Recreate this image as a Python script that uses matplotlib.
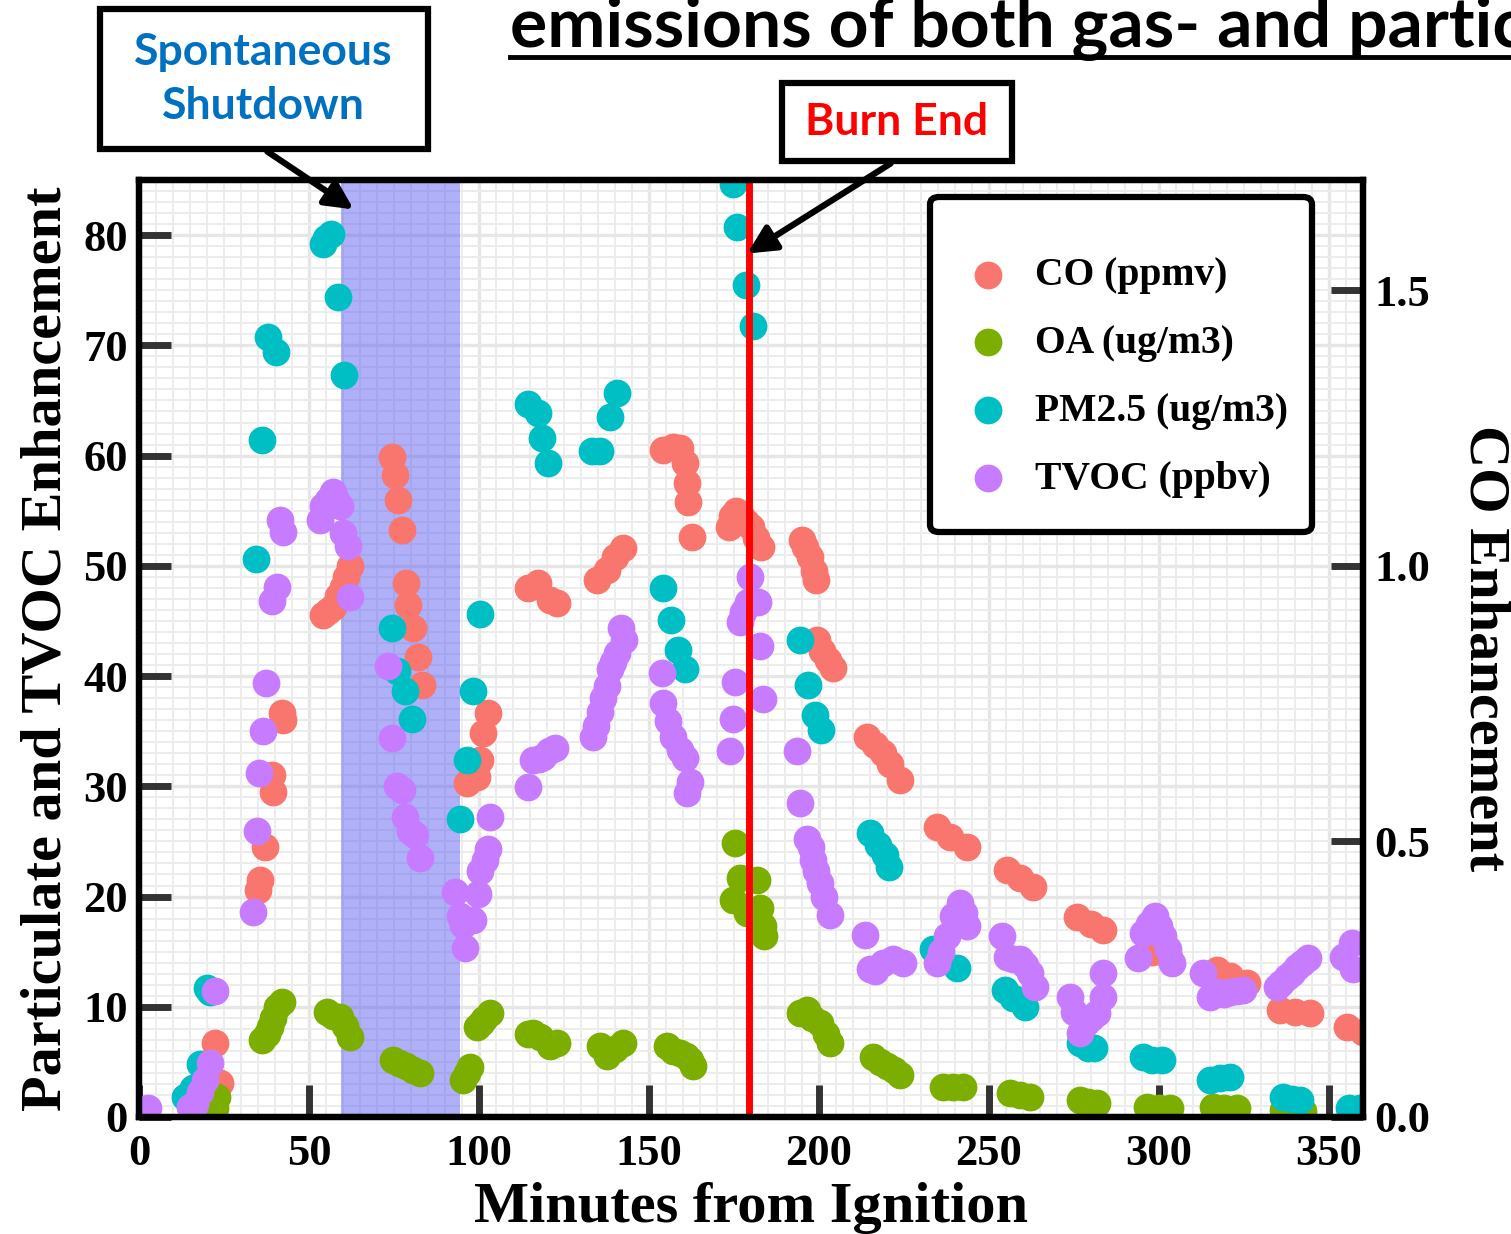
import numpy as np
import matplotlib
matplotlib.use("Agg")
import matplotlib.pyplot as plt
from matplotlib.ticker import MultipleLocator
from matplotlib.patches import Rectangle, FancyArrowPatch, FancyBboxPatch
from matplotlib.lines import Line2D
from matplotlib.font_manager import FontProperties

# ---- data ----
co_x = [22.4, 23.8, 35.0, 35.6, 37.1, 39.1, 39.4, 42.0, 42.4,
        54.1, 55.5, 57.0, 58.5, 60.0, 61.0, 62.0,
        74.4, 75.3, 76.2, 77.4, 78.5, 79.1, 80.6, 82.0, 83.2,
        96.5, 99.4, 100.3, 101.2, 102.6,
        114.4, 117.4, 120.9, 122.9,
        134.7, 137.6, 140.0, 142.4,
        154.1, 157.0, 159.1, 160.6, 161.2, 161.5, 162.6,
        173.5, 174.5, 175.5, 177.0, 178.5, 180.0, 181.5, 183.0,
        195.0, 196.0, 197.4, 198.5, 199.0,
        199.5, 201.0, 202.5, 204.0,
        214.1, 216.5, 218.8, 221.0, 223.8,
        234.7, 238.5, 243.5,
        255.3, 259.0, 263.0,
        275.9, 280.0, 283.5,
        298.0, 303.0,
        317.0, 321.0, 326.0,
        335.6, 340.0, 344.4,
        355.3, 360.0]
co_y = [0.134, 0.062, 0.412, 0.43, 0.49, 0.62, 0.59, 0.733, 0.72,
        0.911, 0.918, 0.926, 0.945, 0.962, 0.98, 1.0,
        1.198, 1.165, 1.12, 1.065, 0.969, 0.929, 0.887, 0.835, 0.784,
        0.606, 0.617, 0.648, 0.697, 0.733,
        0.96, 0.969, 0.938, 0.933,
        0.975, 0.993, 1.016, 1.033,
        1.21, 1.215, 1.214, 1.187, 1.151, 1.116, 1.053,
        1.07, 1.09, 1.10, 1.09, 1.08, 1.07, 1.05, 1.035,
        1.047, 1.035, 1.016, 0.99, 0.975,
        0.865, 0.845, 0.83, 0.815,
        0.69, 0.675, 0.66, 0.64, 0.612,
        0.526, 0.508, 0.49,
        0.448, 0.433, 0.418,
        0.363, 0.35, 0.339,
        0.30, 0.29,
        0.267, 0.255, 0.243,
        0.194, 0.19, 0.189,
        0.163, 0.155]

oa_x = [22.4, 23.0, 36.2, 37.5, 38.5, 39.5, 40.6, 42.0,
        55.3, 57.0, 59.0, 60.5, 62.0,
        74.7, 76.5, 78.5, 80.6, 82.6,
        95.3, 96.5, 97.4, 99.4, 100.5, 101.5, 103.2,
        114.5, 116.0, 118.0, 120.9, 122.9,
        135.6, 137.6, 140.0, 142.4,
        155.3, 157.0, 159.0, 161.0, 162.0, 163.0,
        175.3, 176.8, 174.7, 178.8, 181.8, 182.6, 183.5, 183.8,
        194.4, 196.5, 198.0, 200.3, 202.0, 203.2,
        216.0, 218.0, 220.0, 222.0, 223.8,
        236.5, 239.5, 242.4,
        256.2, 259.0, 262.1,
        276.8, 279.0, 281.8,
        296.5, 300.0, 303.2,
        315.9, 319.0, 323.0,
        336.5, 339.0, 342.4]
oa_y = [0.8, 1.8, 7.0, 7.5, 8.2, 9.0, 10.0, 10.4,
        9.5, 9.2, 9.1, 8.3, 7.3,
        5.2, 4.9, 4.6, 4.3, 4.0,
        3.4, 4.0, 4.5, 8.2, 8.5, 8.9, 9.4,
        7.5, 7.6, 7.3, 6.4, 6.7,
        6.4, 5.5, 6.2, 6.7,
        6.4, 6.0, 5.8, 5.5, 5.2, 4.6,
        24.9, 21.7, 19.7, 18.5, 21.5, 19.0, 17.3, 16.4,
        9.4, 9.7, 9.0, 8.5, 7.5, 6.7,
        5.4, 5.0, 4.6, 4.3, 3.8,
        2.7, 2.7, 2.7,
        2.2, 2.0, 1.8,
        1.5, 1.4, 1.3,
        0.9, 0.8, 0.8,
        0.9, 0.8, 0.8,
        0.6, 0.5, 0.5]

pm_x = [13.5, 16.0, 18.0, 20.0, 21.0,
        34.4, 36.2, 38.0, 40.3,
        54.0, 55.0, 56.5, 58.5, 60.3,
        74.4, 76.0, 78.2, 80.3,
        94.4, 96.5, 98.3, 100.3,
        114.4, 117.4, 118.5, 120.3,
        133.2, 135.5, 138.5, 140.6,
        154.1, 156.5, 158.5, 160.6,
        174.7, 175.9, 178.5, 180.6,
        194.4, 196.8, 198.8, 200.6,
        215.0, 217.4, 219.4, 220.6,
        233.5, 236.0, 240.6,
        254.7, 257.0, 260.6,
        276.8, 279.0, 281.0,
        295.3, 298.0, 301.0,
        315.0, 318.0, 321.0,
        336.5, 339.0, 341.5,
        356.0, 359.0]
pm_y = [1.8, 2.6, 4.8, 11.7, 11.3,
        50.6, 61.4, 70.8, 69.4,
        79.2, 79.7, 80.1, 74.4, 67.3,
        44.4, 40.5, 38.6, 36.1,
        27.0, 32.4, 38.6, 45.6,
        64.7, 63.9, 61.6, 59.3,
        60.4, 60.4, 63.5, 65.7,
        48.0, 45.1, 42.4, 40.6,
        84.6, 80.7, 75.5, 71.8,
        43.3, 39.2, 36.5, 35.1,
        25.8, 24.7, 23.8, 22.7,
        15.2, 14.5, 13.5,
        11.5, 10.8, 10.0,
        6.7, 6.3, 6.3,
        5.4, 5.2, 5.2,
        3.4, 3.5, 3.6,
        1.8, 1.6, 1.5,
        0.8, 0.8]

tvoc_x = [2.6, 15.0, 16.5, 18.0, 19.4, 20.9, 22.4,
          33.5, 34.7, 35.3, 36.5, 37.4, 39.1, 40.6, 41.5, 42.4,
          53.2, 54.1, 55.5, 57.0, 58.0, 59.1, 60.0, 61.5, 62.1,
          73.2, 74.4, 75.9, 77.4, 78.2, 79.7, 81.2, 82.6,
          92.9, 94.4, 95.3, 95.9, 98.2, 99.7, 100.3, 101.8, 102.6, 103.2,
          114.4, 115.9, 117.5, 118.8, 120.5, 122.4,
          133.5, 134.5, 135.6, 136.5, 137.6, 138.5, 139.5, 140.6, 141.8, 142.6,
          153.8, 154.1, 155.6, 157.1, 159.1, 160.6, 162.1, 161.2,
          173.8, 174.7, 175.3, 176.8, 177.6, 179.1, 179.7, 182.0, 182.6, 183.5,
          193.5, 194.4, 196.5, 197.5, 198.2, 199.0, 200.3, 201.5, 203.2,
          213.5, 215.0, 216.5, 218.8, 221.8, 224.7,
          234.7, 236.0, 237.6, 239.4, 241.5, 242.5, 243.5,
          253.8, 255.3, 257.0, 259.1, 260.5, 262.1, 263.5,
          273.8, 275.0, 276.8, 278.5, 280.0, 281.8, 283.5, 283.5,
          293.8, 295.3, 297.0, 298.8, 300.0, 301.2, 302.5, 303.8,
          313.0, 315.0, 317.0, 319.0, 320.9, 322.8, 324.7,
          334.7, 336.0, 337.6, 339.0, 340.6, 342.2, 343.8,
          354.0, 356.8, 357.0]
tvoc_y = [0.8, 0.9, 1.2, 2.3, 3.4, 4.9, 11.4,
          18.6, 25.9, 31.2, 35.0, 39.4, 46.8, 48.1, 54.2, 53.1,
          54.2, 55.4, 56.0, 56.7, 56.0, 55.4, 53.0, 51.8, 47.2,
          40.9, 34.4, 30.0, 29.7, 27.2, 25.9, 25.6, 23.5,
          20.4, 18.2, 17.4, 15.3, 17.9, 20.2, 22.3, 23.3, 24.3, 27.2,
          29.9, 32.4, 32.5, 32.7, 33.2, 33.5,
          34.5, 35.5, 36.7, 38.0, 39.1, 40.6, 41.3, 42.1, 44.4, 43.3,
          40.3, 37.6, 35.9, 34.5, 33.3, 32.6, 30.4, 29.4,
          33.2, 36.1, 39.5, 44.9, 45.8, 46.7, 49.0, 46.7, 42.7, 37.9,
          33.2, 28.5, 25.2, 24.5, 23.3, 22.3, 21.2, 20.0, 18.3,
          16.5, 13.4, 13.2, 14.0, 14.3, 14.0,
          14.0, 15.0, 16.4, 18.2, 19.4, 18.5, 17.3,
          16.4, 14.5, 14.3, 14.3, 13.8, 13.1, 11.8,
          10.9, 9.5, 7.6, 8.5, 9.0, 9.4, 10.9, 13.1,
          14.4, 16.7, 17.5, 18.2, 17.3, 16.4, 15.2, 14.0,
          13.1, 10.9, 11.3, 11.2, 11.3, 11.4, 11.5,
          11.8, 12.2, 12.7, 13.1, 13.6, 14.0, 14.4,
          14.5, 15.8, 13.4]

labels = ["CO (ppmv)", "OA (ug/m3)", "PM2.5 (ug/m3)", "TVOC (ppbv)"]
colors = ["#F8766D", "#7CAE00", "#00BFC4", "#C77CFF"]
shutdown = (59.5, 94.5)
burn_end = 179.5

W, H = 1511, 1234
fig = plt.figure(figsize=(W / 100, H / 100), dpi=100)
fig.patch.set_facecolor("white")

def fx(px):
    return px / W

def fy(py):
    return 1 - py / H

pos = [fx(139), fy(1117), fx(1363) - fx(139), fy(180) - fy(1117)]

# background axes: grid + shutdown band only
axg = fig.add_axes(pos, zorder=0)
axg.set_xlim(0, 360)
axg.set_ylim(0, 85)
axg.xaxis.set_major_locator(MultipleLocator(50))
axg.xaxis.set_minor_locator(MultipleLocator(5))
axg.yaxis.set_major_locator(MultipleLocator(10))
axg.yaxis.set_minor_locator(MultipleLocator(1))
axg.set_axisbelow(True)
axg.grid(which="major", color="#e6e6e6", lw=2.4)
axg.grid(which="minor", color="#ececec", lw=1.4)
axg.tick_params(which="both", length=0, labelbottom=False, labelleft=False)
for sp in axg.spines.values():
    sp.set_visible(False)
axg.axvspan(*shutdown, color="#6262f2", alpha=0.5, lw=0, zorder=1)

# main axes (left scale) and twin (CO scale)
ax = fig.add_axes(pos, zorder=1)
ax.patch.set_visible(False)
ax.set_xlim(0, 360)
ax.set_ylim(0, 85)
ax.xaxis.set_major_locator(MultipleLocator(50))
ax.yaxis.set_major_locator(MultipleLocator(10))
ax2 = ax.twinx()
ax2.set_zorder(2)
ax2.set_ylim(0, 1.7)
ax2.yaxis.set_major_locator(MultipleLocator(0.5))

serif = "Liberation Serif"
tick_fp = FontProperties(family=serif, weight="bold", size=32)

handles = []
handles.append(ax.scatter(co_x, co_y, s=400, color=colors[0], lw=0, zorder=2,
                          transform=ax2.transData))
for xs, ys, c in [(oa_x, oa_y, colors[1]), (pm_x, pm_y, colors[2]), (tvoc_x, tvoc_y, colors[3])]:
    handles.append(ax.scatter(xs, ys, s=400, color=c, lw=0, zorder=2))
ax.axvline(burn_end, color="red", lw=5, zorder=2.2)

for a in (ax, ax2):
    for sp in a.spines.values():
        sp.set_linewidth(4.5)
        sp.set_color("black")
    a.tick_params(which="major", direction="in", length=23, width=5, color="#333333", pad=8)
ax.tick_params(axis="x", top=False, pad=12)
ax.tick_params(axis="y", right=False)
for lab in ax.get_xticklabels() + ax.get_yticklabels() + ax2.get_yticklabels():
    lab.set_fontproperties(tick_fp)

ax.set_xlabel("Minutes from Ignition", family=serif, weight="bold", size=42, labelpad=6)
ax.set_ylabel("Particulate and TVOC Enhancement", family=serif, weight="bold", size=42, labelpad=8)
ax2.set_ylabel("CO Enhancement", family=serif, weight="bold", size=42, rotation=270,
               labelpad=58)

# legend: frame drawn separately so its padding matches
fig.add_artist(FancyBboxPatch((fx(930), fy(532)), fx(1312) - fx(930), fy(197) - fy(532),
                              boxstyle="round,pad=0,rounding_size=0.006",
                              transform=fig.transFigure, fc="white", ec="black",
                              lw=4.5, zorder=6))
leg = fig.legend(handles, labels, loc="upper left",
                 bbox_to_anchor=(fx(968), fy(257)), bbox_transform=fig.transFigure,
                 prop=dict(family=serif, weight="bold", size=28.5),
                 frameon=False, borderpad=0, labelspacing=0.78, handlelength=1.0,
                 handletextpad=0.69, borderaxespad=0)
leg.set_zorder(7)

# title fragment at the top, underlined (runs off the right edge as in the source)
sans = "Lato"
fig.text(fx(510), fy(47), "emissions of both gas- and particle", family=sans,
         weight="bold", size=50, ha="left", va="baseline")
fig.add_artist(Line2D([fx(510), fx(1511)], [fy(57), fy(57)], color="black", lw=3.5,
                      transform=fig.transFigure))

# annotation boxes with arrows
def box(x0, y0, x1, y1):
    fig.add_artist(Rectangle((fx(x0), fy(y1)), fx(x1) - fx(x0), fy(y0) - fy(y1),
                             transform=fig.transFigure, fc="white", ec="black", lw=4.5,
                             zorder=6))

box(100, 9, 428, 149)
fig.text(fx(263), fy(79), "Spontaneous\nShutdown", family=sans, weight="bold", size=32,
         color="#0070C0", ha="center", va="center", linespacing=1.45, zorder=7)
box(782, 83, 1012, 161)
fig.text(fx(897), fy(122), "Burn End", family=sans, weight="bold", size=32,
         color="red", ha="center", va="center", zorder=7)

for a, b in [((265, 150), (356, 211)), ((893, 162), (745, 255))]:
    fig.add_artist(FancyArrowPatch((fx(a[0]), fy(a[1])), (fx(b[0]), fy(b[1])),
                                   transform=fig.transFigure, arrowstyle="-|>",
                                   mutation_scale=42, lw=4.5, color="black", zorder=6))

fig.savefig("out.png", dpi=100)
